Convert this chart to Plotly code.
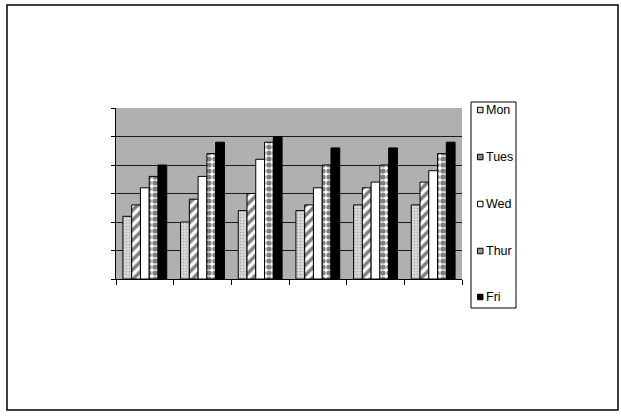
import plotly.graph_objects as go

categories = ["G1", "G2", "G3", "G4", "G5", "G6"]
series_names = ["Mon", "Tues", "Wed", "Thur", "Fri"]
mon = [2.2, 2.0, 2.4, 2.4, 2.6, 2.6]
tues = [2.6, 2.8, 3.0, 2.6, 3.2, 3.4]
wed = [3.2, 3.6, 4.2, 3.2, 3.4, 3.8]
thur = [3.6, 4.4, 4.8, 4.0, 4.0, 4.4]
fri = [4.0, 4.8, 5.0, 4.6, 4.6, 4.8]
values = [mon, tues, wed, thur, fri]
y_tick_vals = [0, 1, 2, 3, 4, 5, 6]

styles = [
    dict(color="#d0d0d0", pattern=dict(shape=".", fgcolor="#808080", bgcolor="#d8d8d8", size=3, solidity=0.25)),
    dict(color="white", pattern=dict(shape="/", fgcolor="black", bgcolor="white", size=7, solidity=0.5)),
    dict(color="white"),
    dict(color="white", pattern=dict(shape=".", fgcolor="black", bgcolor="white", size=6, solidity=0.6)),
    dict(color="black"),
]
legend_fill = ["#d8d8d8", "#8a8a8a", "white", "#9a9a9a", "black"]

fig = go.Figure()
for name, vals, st in zip(series_names, values, styles):
    fig.add_trace(go.Bar(
        x=categories, y=vals, name=name, showlegend=False,
        marker=dict(line=dict(color="black", width=1), **st),
    ))

W, H = 621, 416
L, R, T, B = 116, 462, 108, 279
PW, PH = R - L, B - T

def fx(px):
    return (px - L) / PW

def fy(py):
    return (B - py) / PH

shapes = []
annotations = []
# outer frame
shapes.append(dict(type="rect", xref="paper", yref="paper",
                   x0=fx(7), x1=fx(618), y0=fy(410), y1=fy(5),
                   line=dict(color="black", width=1.5), fillcolor="rgba(0,0,0,0)", layer="below"))
# legend box
shapes.append(dict(type="rect", xref="paper", yref="paper",
                   x0=fx(471), x1=fx(516), y0=fy(308), y1=fy(102),
                   line=dict(color="black", width=1), fillcolor="white"))
legend_y = [110, 157, 204, 251, 297]
for name, yy, col in zip(series_names, legend_y, legend_fill):
    shapes.append(dict(type="rect", xref="paper", yref="paper",
                       x0=fx(477.5), x1=fx(483), y0=fy(yy + 2.75), y1=fy(yy - 2.75),
                       line=dict(color="black", width=1), fillcolor=col))
    annotations.append(dict(xref="paper", yref="paper", x=fx(484), y=fy(yy),
                            text=name, showarrow=False, xanchor="left", yanchor="middle",
                            font=dict(family="Liberation Sans, Arial", size=12.5, color="black")))

fig.update_layout(
    width=W, height=H,
    margin=dict(l=L, r=W - R, t=T, b=H - B, pad=0),
    paper_bgcolor="white",
    plot_bgcolor="#b0b0b0",
    barmode="group", bargap=0.24, bargroupgap=0,
    shapes=shapes, annotations=annotations,
    xaxis=dict(showticklabels=False, ticks="outside", ticklen=5, tickcolor="black",
               tickson="boundaries", showline=True, linecolor="black", linewidth=1,
               showgrid=False, zeroline=False),
    yaxis=dict(range=[0, 6], tickvals=y_tick_vals, showticklabels=False, ticks="outside",
               ticklen=4, tickcolor="black", showline=True, linecolor="black", linewidth=1,
               showgrid=True, gridcolor="#1a1a1a", gridwidth=1, zeroline=False),
    showlegend=False,
)

fig.write_html("out.html", post_script="document.body.style.margin='0';",
               config={"displayModeBar": False})
